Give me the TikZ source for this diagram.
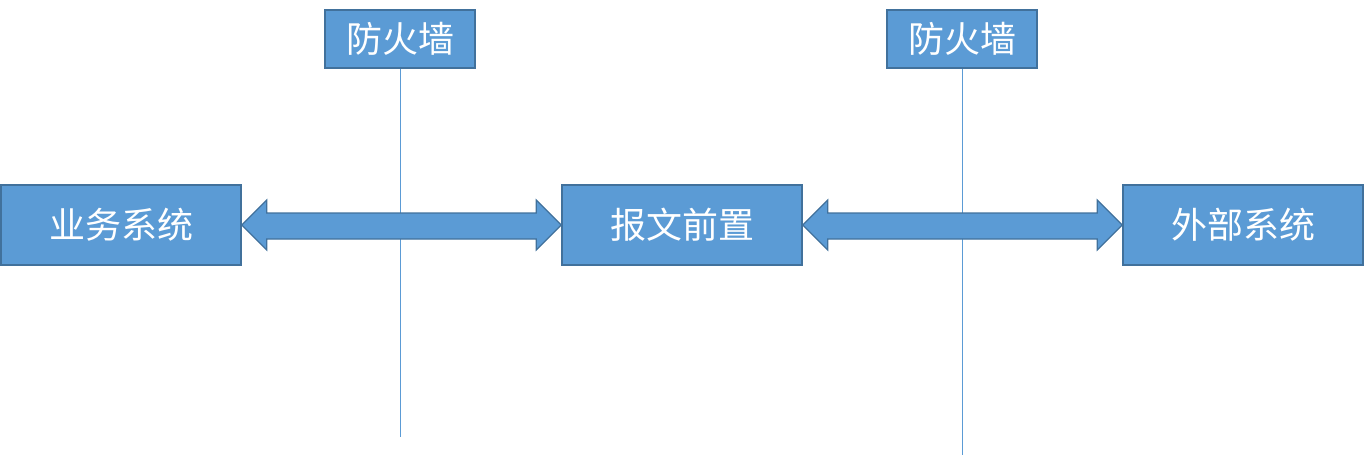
\documentclass[tikz,border=0pt]{standalone}
\usepackage{fontspec}
\newfontfamily\cjk{Noto Sans CJK SC}
\definecolor{boxFill}{RGB}{91,155,213}
\definecolor{boxEdge}{RGB}{65,113,156}
\usetikzlibrary{calc,positioning}

\begin{document}
\begin{tikzpicture}[x=1pt,y=-1pt,
    sysbox/.style={draw=boxEdge, line width=1.5pt, fill=boxFill, text=white,
      minimum width=240pt, minimum height=80pt, inner sep=0pt,
      font=\cjk\fontsize{36}{40}\selectfont},
    wallbox/.style={sysbox, minimum width=150pt, minimum height=58pt},
    wall/.style={boxFill, line width=1pt},
    link/.style={draw=boxEdge, line width=1.2pt, fill=boxFill, line join=miter}]
    \useasboundingbox (0,0) rectangle (1364,455);

    % three systems in a row
    \node[sysbox] (biz) at (121,225) {业务系统};
    \node[sysbox] (front) at (682,225) {报文前置};
    \node[sysbox] (ext) at (1243,225) {外部系统};

    % firewalls with their lines
    \node[wallbox] (fwA) at (400,39) {防火墙};
    \node[wallbox] (fwB) at (962,39) {防火墙};
    \coordinate (fwAend) at (400,437);
    \coordinate (fwBend) at (962,455);
    \draw[wall] (fwA.south) -- (fwAend);
    \draw[wall] (fwB.south) -- (fwBend);

    % double arrows between the systems
    \foreach \a/\b in {biz/front, front/ext} {
      \draw[link] (\a.east) -- ($(\a.east)+(25,-25)$) -- ($(\a.east)+(25,-12)$)
        -- ($(\b.west)+(-25,-12)$) -- ($(\b.west)+(-25,-25)$) -- (\b.west)
        -- ($(\b.west)+(-25,25)$) -- ($(\b.west)+(-25,14)$)
        -- ($(\a.east)+(25,14)$) -- ($(\a.east)+(25,25)$) -- cycle;
    }
  \end{tikzpicture}
\end{document}
